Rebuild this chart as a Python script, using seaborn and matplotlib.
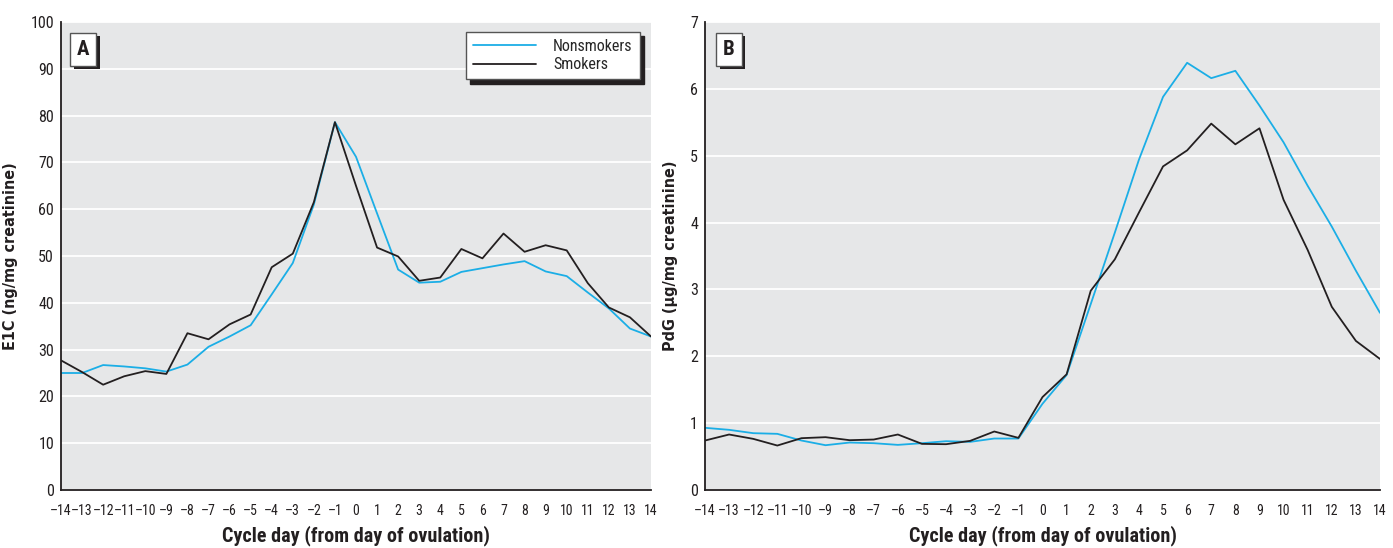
import numpy as np
import pandas as pd
import matplotlib
matplotlib.use("Agg")
import matplotlib.pyplot as plt
import matplotlib.patheffects as pe
import seaborn as sns

days = list(range(-14, 15))

e1c_nonsmokers = [25.0, 25.0, 26.7, 26.4, 26.0, 25.3, 26.8, 30.6, 32.8, 35.2, 41.8, 48.5,
                  61.0, 78.6, 71.2, 59.1, 47.1, 44.3, 44.5, 46.6, 47.4, 48.2, 48.9, 46.7,
                  45.7, 42.2, 38.8, 34.5, 32.8]
e1c_smokers = [27.7, 25.2, 22.5, 24.3, 25.4, 24.8, 33.5, 32.2, 35.4, 37.5, 47.6, 50.5,
               61.5, 78.6, 65.0, 51.8, 49.9, 44.7, 45.4, 51.5, 49.5, 54.8, 50.9, 52.3,
               51.2, 44.2, 39.0, 36.9, 32.8]

pdg_nonsmokers = [0.93, 0.90, 0.85, 0.84, 0.74, 0.67, 0.71, 0.70, 0.675, 0.70, 0.73, 0.72,
                  0.77, 0.77, 1.29, 1.72, 2.78, 3.85, 4.94, 5.88, 6.39, 6.16, 6.27, 5.75,
                  5.20, 4.55, 3.94, 3.28, 2.65]
pdg_smokers = [0.74, 0.83, 0.765, 0.665, 0.775, 0.79, 0.745, 0.755, 0.83, 0.69, 0.685, 0.735,
               0.875, 0.78, 1.39, 1.73, 2.98, 3.45, 4.15, 4.84, 5.08, 5.48, 5.17, 5.41,
               4.34, 3.59, 2.74, 2.23, 1.96]

groups = ["Nonsmokers", "Smokers"]
palette = {"Nonsmokers": "#1BAEE6", "Smokers": "#231F20"}

df_e1c = pd.DataFrame({"day": days * 2,
                       "value": e1c_nonsmokers + e1c_smokers,
                       "group": [groups[0]] * 29 + [groups[1]] * 29})
df_pdg = pd.DataFrame({"day": days * 2,
                       "value": pdg_nonsmokers + pdg_smokers,
                       "group": [groups[0]] * 29 + [groups[1]] * 29})

sns.set_style("white", {"axes.facecolor": "#E6E7E8"})
narrow = ["Liberation Sans Narrow", "Roboto Condensed", "Roboto", "DejaVu Sans"]
plt.rcParams["font.family"] = narrow
plt.rcParams["font.stretch"] = "condensed"
ink = "#231F20"

fig = plt.figure(figsize=(13.93, 5.48), dpi=100)
ax1 = fig.add_axes([61 / 1393, 58 / 548, 590 / 1393, 468 / 548])
ax2 = fig.add_axes([705 / 1393, 58 / 548, 675 / 1393, 468 / 548])


def style_axis(ax, ymax, ystep, ylabel, letter):
    ax.set_xlim(-14, 14)
    ax.set_ylim(0, ymax)
    ax.set_xticks(days)
    ax.set_xticklabels([str(d).replace("-", "\u2013") for d in days])
    ax.set_yticks(np.arange(0, ymax + ystep / 2, ystep))
    ax.yaxis.grid(True, color="white", linewidth=1.3)
    ax.set_axisbelow(True)
    for s in ["top", "right"]:
        ax.spines[s].set_visible(False)
    for s in ["left", "bottom"]:
        ax.spines[s].set_color(ink)
        ax.spines[s].set_linewidth(1.3)
    ax.tick_params(axis="x", length=7, width=1, color=ink, direction="out",
                   labelsize=10, pad=3, labelcolor=ink)
    ax.tick_params(axis="y", length=0, labelsize=11.5, pad=5, labelcolor=ink)
    ax.set_xlabel("Cycle day (from day of ovulation)", fontsize=14.5, fontweight="bold",
                  color=ink, labelpad=5)
    ax.set_ylabel(ylabel, fontsize=11.5, fontweight="heavy", color=ink,
                  family=["DejaVu Sans"], labelpad=9)
    t = ax.text(0.027, 0.962, letter, transform=ax.transAxes, fontsize=15,
                fontweight="bold", color=ink, ha="left", va="top",
                bbox=dict(boxstyle="square,pad=0.33", facecolor="white",
                          edgecolor="#555555", linewidth=1))
    t.get_bbox_patch().set_path_effects([
        pe.SimplePatchShadow(offset=(2.5, -2.5), shadow_rgbFace=ink, alpha=1),
        pe.Normal()])


sns.lineplot(data=df_e1c, x="day", y="value", hue="group", palette=palette,
             linewidth=1.3, ax=ax1)
sns.lineplot(data=df_pdg, x="day", y="value", hue="group", palette=palette,
             linewidth=1.3, ax=ax2, legend=False)

style_axis(ax1, 100, 10, "E1C (ng/mg creatinine)", "A")
style_axis(ax2, 7, 1, "PdG (\u00b5g/mg creatinine)", "B")

leg = ax1.legend(title=None, loc="upper right", bbox_to_anchor=(0.981, 0.979),
                 borderaxespad=0, fontsize=11.5, frameon=True, fancybox=False,
                 handlelength=3.9, borderpad=0.45, labelspacing=0.2, handletextpad=1.1,
                 shadow={"ox": 3, "oy": -3, "facecolor": ink,
                         "edgecolor": ink, "alpha": 1})
leg.get_frame().set_edgecolor("#555555")
leg.get_frame().set_facecolor("white")
leg.get_frame().set_alpha(1)
leg.get_frame().set_linewidth(1)
for line in leg.get_lines():
    line.set_linewidth(1.3)

fig.savefig("out.png", dpi=100)
